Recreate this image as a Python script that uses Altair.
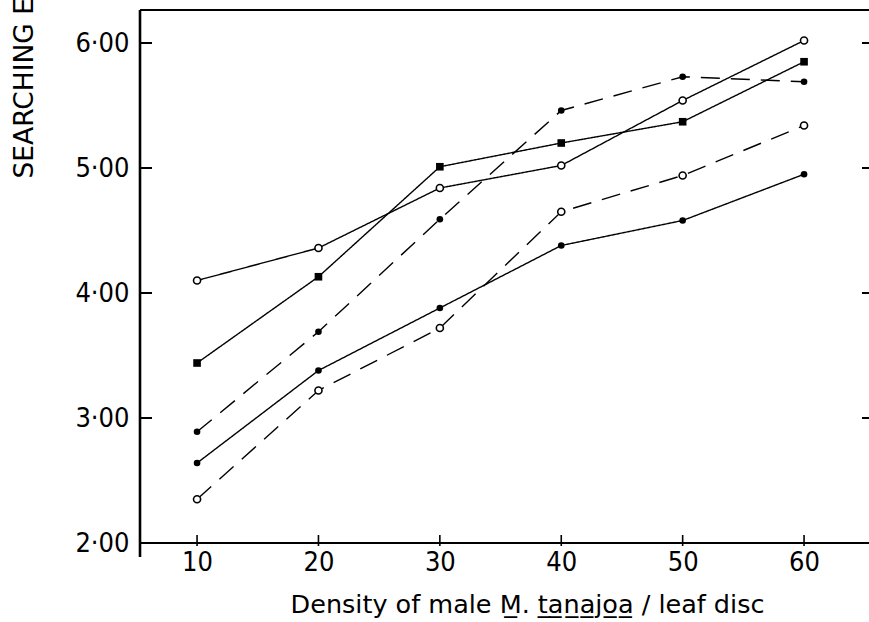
import altair as alt
import pandas as pd

# Density of males per leaf disc
density = [10, 20, 30, 40, 50, 60]

# Searching values for each of the five plotted series
open_solid = [4.10, 4.36, 4.84, 5.02, 5.54, 6.02]
square_solid = [3.44, 4.13, 5.01, 5.20, 5.37, 5.85]
filled_dashed = [2.89, 3.69, 4.59, 5.46, 5.73, 5.69]
filled_solid = [2.64, 3.38, 3.88, 4.38, 4.58, 4.95]
open_dashed = [2.35, 3.22, 3.72, 4.65, 4.94, 5.34]

# Axis tick positions
x_ticks = [10, 20, 30, 40, 50, 60]
y_ticks = [2, 3, 4, 5, 6]

series = [
    ("A", open_solid, "solid", "open"),
    ("B", square_solid, "solid", "square"),
    ("C", filled_dashed, "dashed", "filled"),
    ("D", filled_solid, "solid", "filled"),
    ("E", open_dashed, "dashed", "open"),
]
rows = []
for name, vals, style, marker in series:
    for d, v in zip(density, vals):
        rows.append({"series": name, "density": d, "value": v,
                     "style": style, "marker": marker})
df = pd.DataFrame(rows)

W, H = 729, 533
LABEL_FONT = "Liberation Sans Narrow, DejaVu Sans Condensed, Liberation Sans, sans-serif"
TITLE_FONT = "DejaVu Sans"

xs = alt.Scale(domain=[5.3, 65.35], nice=False, zero=False)
ys = alt.Scale(domain=[2.0, 6.264], nice=False, zero=False)

x_axis = alt.Axis(
    values=x_ticks, format="d", grid=False, domain=False, ticks=False,
    labelFont=LABEL_FONT, labelFontSize=27, labelColor="black", labelPadding=6,
    title="Density of male M\u0332. t\u0332a\u0332n\u0332a\u0332j\u0332o\u0332a\u0332 / leaf disc",
    titleFont=TITLE_FONT, titleFontSize=25.5, titleFontWeight="normal",
    titleColor="black", titleX=387, titleY=69, titleAlign="center",
    titleBaseline="alphabetic",
)
y_axis = alt.Axis(
    values=y_ticks, grid=False, domain=False, ticks=False,
    labelExpr="replace(format(datum.value, '.2f'), '.', '\u00b7')",
    labelFont=LABEL_FONT, labelFontSize=27, labelColor="black", labelPadding=11,
    title="SEARCHING EFFICIENCY",
    titleFont=TITLE_FONT, titleFontSize=26.5, titleFontWeight="normal",
    titleColor="black", titleAngle=270, titleX=-116, titleY=168,
    titleAlign="left", titleBaseline="middle",
)


def xq(field):
    return alt.X(field, scale=xs, axis=x_axis)


def yq(field):
    return alt.Y(field, scale=ys, axis=y_axis)


base = alt.Chart(df)

lines = base.mark_line(color="black", strokeWidth=1.4).encode(
    x=xq("density:Q"),
    y=yq("value:Q"),
    detail="series:N",
    strokeDash=alt.StrokeDash(
        "style:N",
        scale=alt.Scale(domain=["solid", "dashed"], range=[[1, 0], [19, 11]]),
        legend=None,
    ),
)

open_pts = base.transform_filter(alt.datum.marker == "open").mark_point(
    shape="circle", filled=True, fill="white", stroke="black",
    strokeWidth=1.6, size=50, opacity=1,
).encode(x=xq("density:Q"), y=yq("value:Q"))

filled_pts = base.transform_filter(alt.datum.marker == "filled").mark_point(
    shape="circle", filled=True, color="black", size=44, opacity=1,
).encode(x=xq("density:Q"), y=yq("value:Q"))

square_pts = base.transform_filter(alt.datum.marker == "square").mark_point(
    shape="square", filled=True, color="black", size=58, opacity=1,
).encode(x=xq("density:Q"), y=yq("value:Q"))

# Frame lines and inward-pointing tick marks
one = pd.DataFrame({"k": [0]})
left_line = alt.Chart(one).mark_rule(color="black", strokeWidth=2.6).encode(
    x=alt.value(0), y=alt.value(0), y2=alt.value(H + 14))
top_line = alt.Chart(one).mark_rule(color="black", strokeWidth=2).encode(
    x=alt.value(0), x2=alt.value(W), y=alt.value(0))
bottom_line = alt.Chart(one).mark_rule(color="black", strokeWidth=2).encode(
    x=alt.value(0), x2=alt.value(W), y=alt.value(H))

yt = pd.DataFrame({"density": [None] * len(y_ticks), "value": y_ticks})
xt = pd.DataFrame({"density": x_ticks, "value": [None] * len(x_ticks)})
left_ticks = alt.Chart(yt).mark_rule(color="black", strokeWidth=2).encode(
    y=yq("value:Q"), x=alt.value(0), x2=alt.value(12))
right_ticks = alt.Chart(yt).mark_rule(color="black", strokeWidth=2).encode(
    y=yq("value:Q"), x=alt.value(W - 7), x2=alt.value(W))
bottom_ticks = alt.Chart(xt).mark_rule(color="black", strokeWidth=1.6).encode(
    x=xq("density:Q"), y=alt.value(H - 8), y2=alt.value(H + 3))

chart = alt.layer(
    lines, open_pts, filled_pts, square_pts,
    left_line, top_line, bottom_line, left_ticks, right_ticks, bottom_ticks,
).properties(
    width=W, height=H,
    autosize=alt.AutoSizeParams(type="none"),
    padding={"left": 140, "top": 10, "right": 0, "bottom": 79},
    background="white",
).configure_view(stroke=None)

chart.save("out.html", embed_options={"renderer": "svg", "actions": False})
